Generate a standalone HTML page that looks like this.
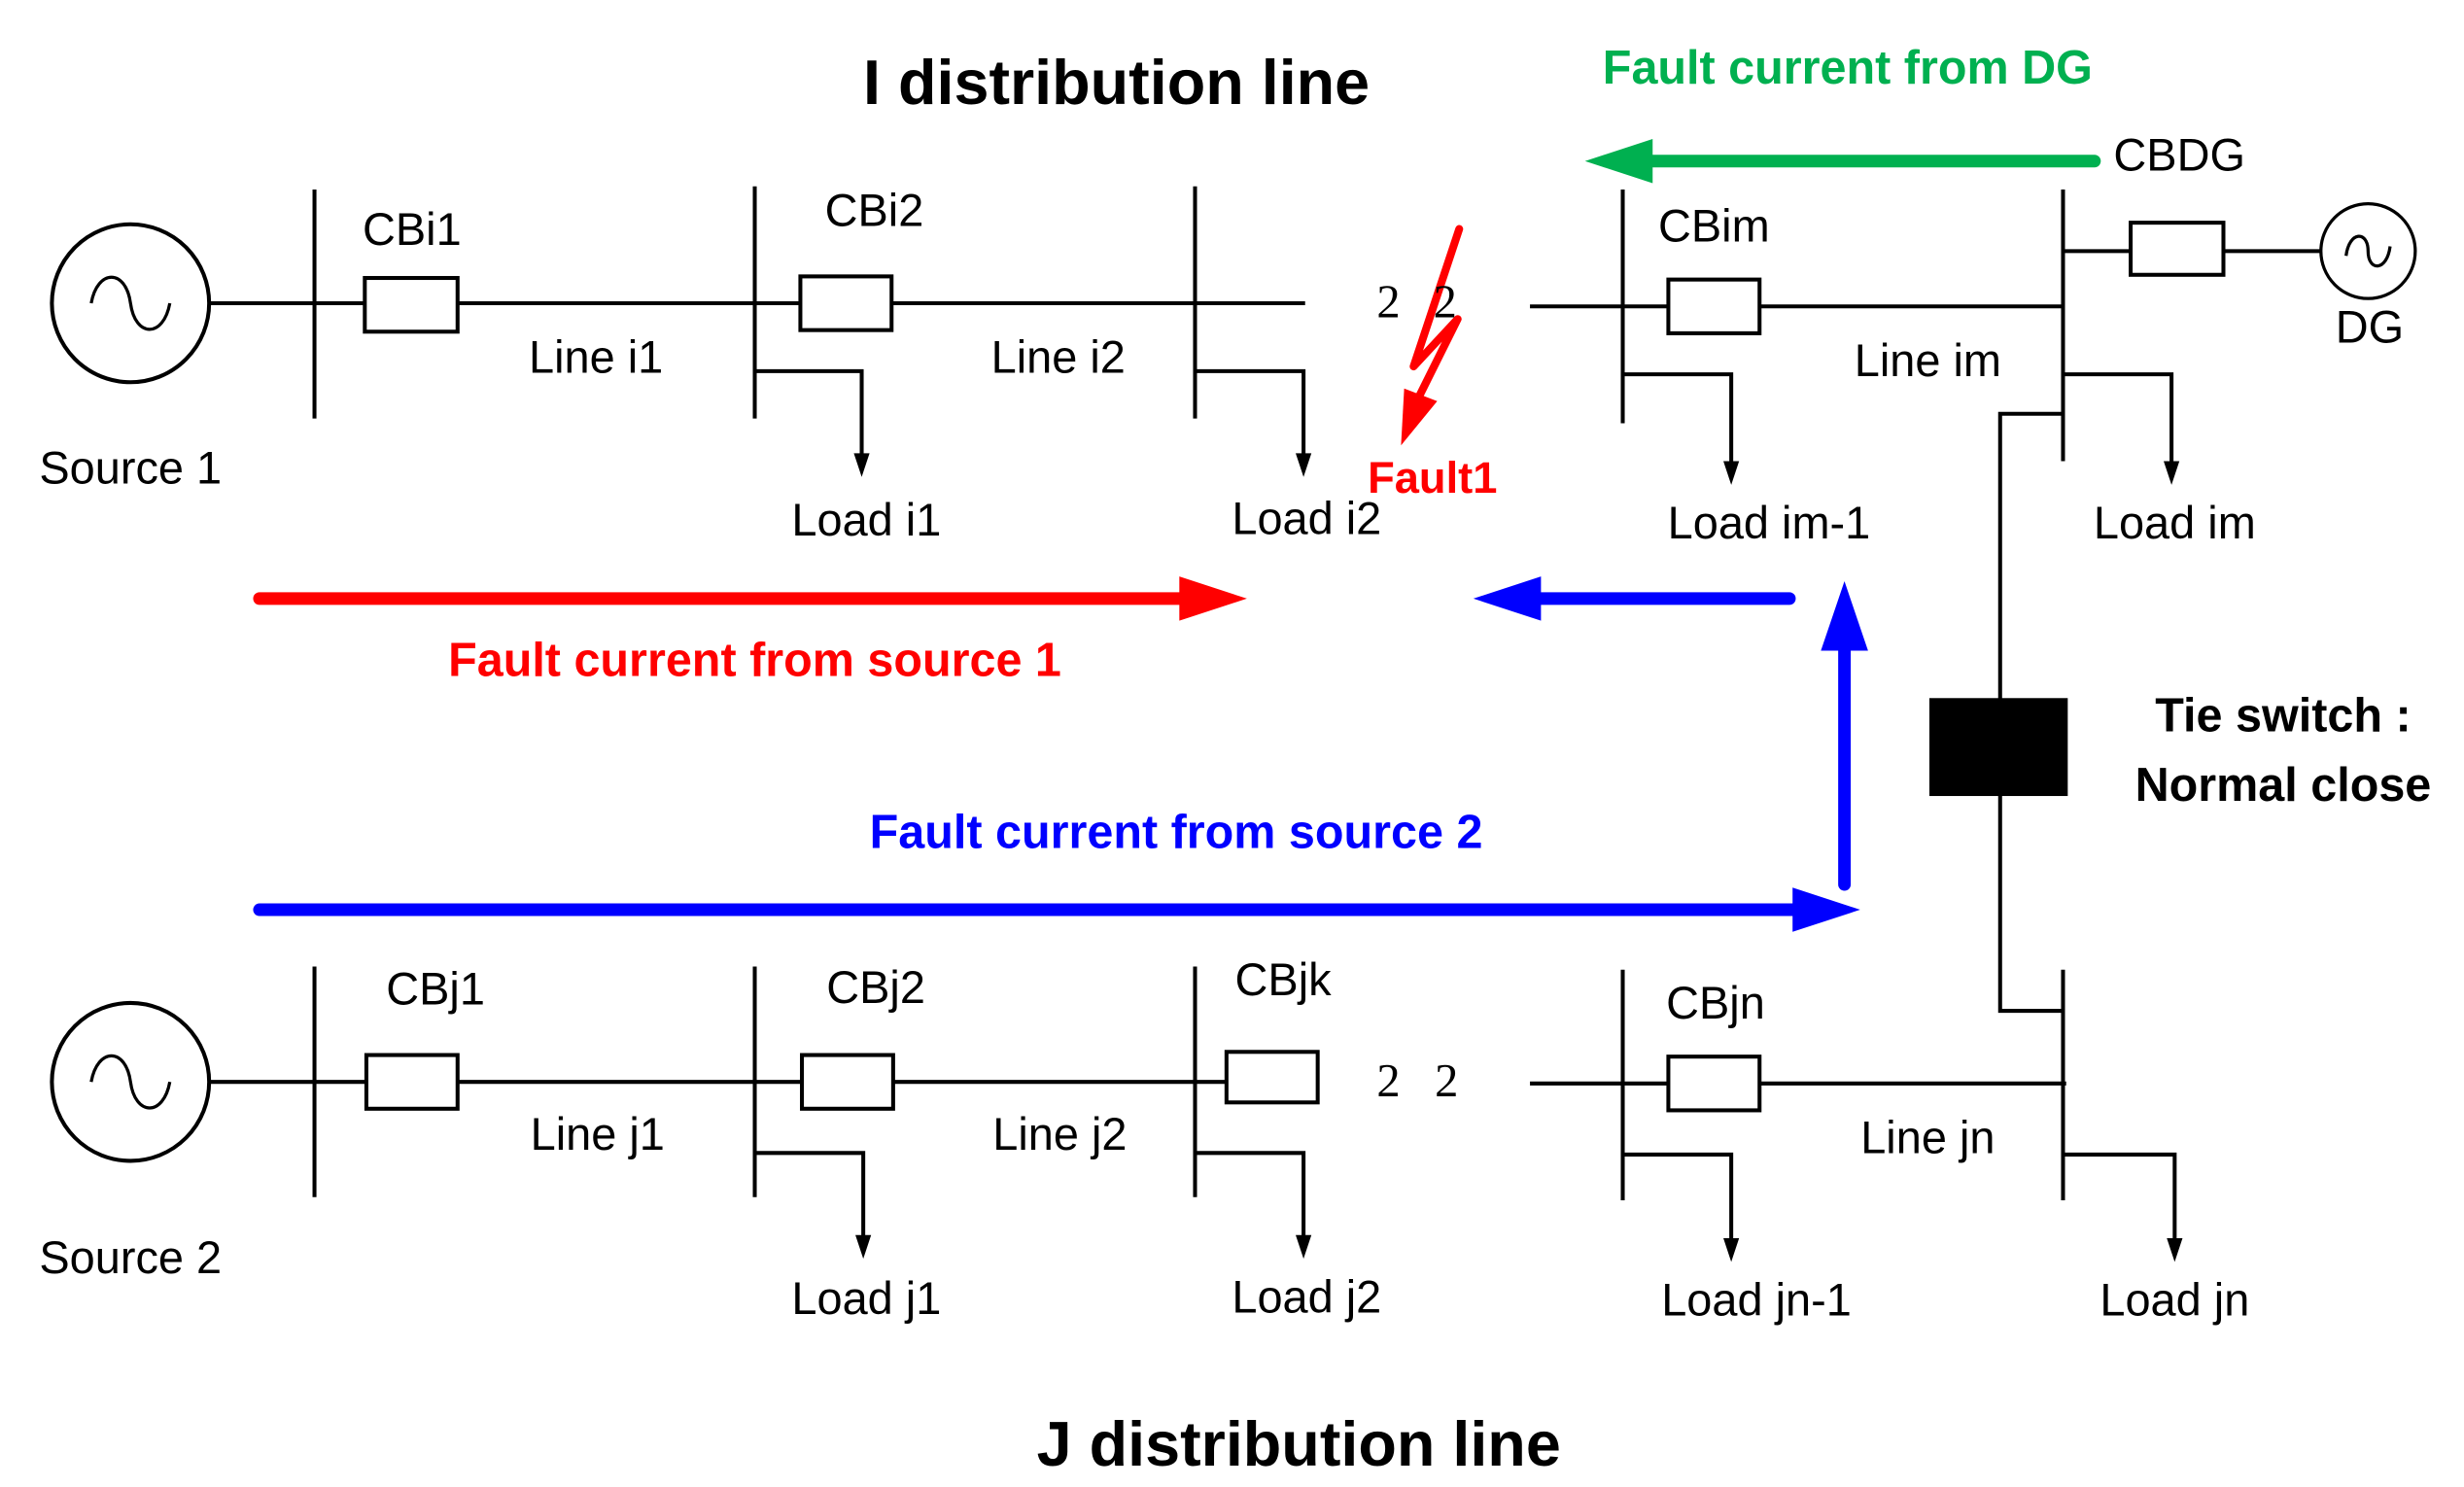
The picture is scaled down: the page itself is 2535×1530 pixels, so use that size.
<!DOCTYPE html>
<html><head><meta charset="utf-8"><style>html,body{margin:0;padding:0;background:#fff}svg{display:block}</style></head><body>
<svg width="2535" height="1530" viewBox="0 0 1567 941.5" preserveAspectRatio="none" xmlns="http://www.w3.org/2000/svg" font-family="Liberation Sans, sans-serif">
<g stroke="#000" stroke-width="2.5" fill="none">
<circle cx="83" cy="192" r="50"/>
<path d="M58,192 C62,170 80,170 83,192 C86,214 104,214 108,192" stroke-width="2"/>
<line x1="133" y1="192" x2="830" y2="192"/>
<line x1="200" y1="120" x2="200" y2="265"/>
<line x1="480" y1="118" x2="480" y2="265"/>
<line x1="760" y1="118" x2="760" y2="265"/>
<rect x="232" y="176" width="59" height="34" fill="#fff"/>
<rect x="509" y="175" width="58" height="34" fill="#fff"/>
<polyline points="480,235 548,235 548,290"/>
<polyline points="760,235 829,235 829,290"/>
<line x1="973" y1="194" x2="1312" y2="194"/>
<line x1="1032" y1="120" x2="1032" y2="268"/>
<line x1="1312" y1="120" x2="1312" y2="292"/>
<rect x="1061" y="177" width="58" height="34" fill="#fff"/>
<polyline points="1032,237 1101,237 1101,295"/>
<polyline points="1312,237 1381,237 1381,295"/>
<line x1="1312" y1="159" x2="1476" y2="159"/>
<rect x="1355" y="141" width="59" height="33" fill="#fff"/>
<circle cx="1506" cy="159" r="30" stroke-width="2"/>
<path d="M1492,162 C1494,146 1506,146 1506,159 C1506,172 1518,172 1520,156" stroke-width="2"/>
<polyline points="1312,262 1272,262 1272,640 1312,640"/>
<circle cx="83" cy="685" r="50"/>
<path d="M58,685 C62,663 80,663 83,685 C86,707 104,707 108,685" stroke-width="2"/>
<line x1="133" y1="685" x2="780" y2="685"/>
<line x1="200" y1="612" x2="200" y2="758"/>
<line x1="480" y1="612" x2="480" y2="758"/>
<line x1="760" y1="612" x2="760" y2="758"/>
<rect x="233" y="668" width="58" height="34" fill="#fff"/>
<rect x="510" y="668" width="58" height="34" fill="#fff"/>
<rect x="780" y="666" width="58" height="32" fill="#fff"/>
<polyline points="480,730 549,730 549,785"/>
<polyline points="760,730 829,730 829,785"/>
<line x1="973" y1="686" x2="1314" y2="686"/>
<line x1="1032" y1="614" x2="1032" y2="760"/>
<line x1="1312" y1="614" x2="1312" y2="760"/>
<rect x="1061" y="669" width="58" height="34" fill="#fff"/>
<polyline points="1032,731 1101,731 1101,787"/>
<polyline points="1312,731 1383,731 1383,787"/>
</g>
<g fill="#000">
<polygon points="543,287 553,287 548,302"/>
<polygon points="824,287 834,287 829,302"/>
<polygon points="1096,292 1106,292 1101,307"/>
<polygon points="1376,292 1386,292 1381,307"/>
<polygon points="544,782 554,782 549,797"/>
<polygon points="824,782 834,782 829,797"/>
<polygon points="1096,784 1106,784 1101,799"/>
<polygon points="1378,784 1388,784 1383,799"/>
</g>
<rect x="1227" y="442" width="88" height="62" fill="#000"/>
<polyline points="928,145 899,232 927,202 902,252" fill="none" stroke="#f00" stroke-width="5" stroke-linejoin="round" stroke-linecap="round"/>
<polygon points="893,246 914,254 891,282" fill="#f00"/>
<g stroke-linecap="round" stroke-width="8">
<line x1="165" y1="379" x2="755" y2="379" stroke="#f00"/>
<line x1="1138" y1="379" x2="975" y2="379" stroke="#00f"/>
<line x1="1173" y1="560" x2="1173" y2="410" stroke="#00f"/>
<line x1="165" y1="576" x2="1145" y2="576" stroke="#00f"/>
<line x1="1332" y1="102" x2="1048" y2="102" stroke="#00b050"/>
</g>
<polygon points="750,365 793,379 750,393" fill="#f00"/>
<polygon points="980,365 937,379 980,393" fill="#00f"/>
<polygon points="1158,412 1173,368 1188,412" fill="#00f"/>
<polygon points="1140,562 1183,576 1140,590" fill="#00f"/>
<polygon points="1051,88 1008,102 1051,116" fill="#00b050"/>
<g font-size="29" fill="#000" text-anchor="middle">
<text x="262" y="155">CBi1</text>
<text x="556" y="143">CBi2</text>
<text x="379" y="236">Line i1</text>
<text x="673" y="236">Line i2</text>
<text x="83" y="306">Source 1</text>
<text x="551" y="339">Load i1</text>
<text x="831" y="338">Load i2</text>
<text x="1090" y="153">CBim</text>
<text x="1386" y="108">CBDG</text>
<text x="1507" y="217">DG</text>
<text x="1226" y="238">Line im</text>
<text x="1125" y="341">Load im-1</text>
<text x="1383" y="341">Load im</text>
<text x="277" y="636">CBj1</text>
<text x="557" y="635">CBj2</text>
<text x="816" y="630">CBjk</text>
<text x="380" y="728">Line j1</text>
<text x="674" y="728">Line j2</text>
<text x="83" y="806">Source 2</text>
<text x="551" y="832">Load j1</text>
<text x="831" y="831">Load j2</text>
<text x="1091" y="645">CBjn</text>
<text x="1226" y="730">Line jn</text>
<text x="1117" y="833">Load jn-1</text>
<text x="1383" y="833">Load jn</text>
</g>
<g font-family="Liberation Serif, serif" font-size="30" fill="#000" text-anchor="middle">
<text x="883" y="201">2</text><text x="919" y="201">2</text>
<text x="883" y="694">2</text><text x="920" y="694">2</text>
</g>
<g font-weight="bold" text-anchor="middle">
<text x="710" y="66" font-size="40">I distribution line</text>
<text x="826" y="928" font-size="40">J distribution line</text>
<text x="1175" y="53" font-size="30" fill="#00b050">Fault current from DG</text>
<text x="480" y="428" font-size="30" fill="#f00">Fault current from source 1</text>
<text x="748" y="537" font-size="30" fill="#00f">Fault current from source 2</text>
<text x="911" y="312" font-size="28" fill="#f00">Fault1</text>
<text x="1452" y="463" font-size="30">Tie switch :</text>
<text x="1452" y="507" font-size="30">Normal close</text>
</g>
</svg>
</body></html>
